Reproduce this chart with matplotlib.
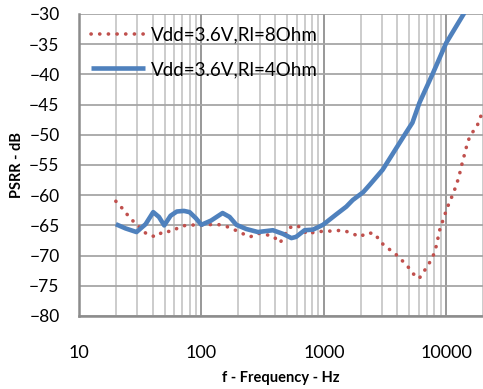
import numpy as np
import matplotlib
matplotlib.use("Agg")
import matplotlib.pyplot as plt
from matplotlib.ticker import LogLocator, FixedLocator, NullFormatter

plt.rcParams['font.family'] = ['Lato', 'DejaVu Sans']

# Vdd=3.6V, Rl=8Ohm (red, dotted)
f_8 = [20, 22.4, 25, 28, 36, 42.5, 48.7, 57.7, 66.7, 79, 97, 112, 133, 157, 181,
       214, 251, 288, 333, 387, 439, 519, 608, 741, 862, 1015, 1208, 1431, 1695,
       1969, 2274, 2630, 2887, 3294, 3800, 4313, 4856, 5373, 6013, 6643, 7259,
       7870, 8277, 8594, 8919, 9440, 9985, 10620, 11380, 12110, 12740, 13240,
       13810, 14430, 15080, 16270, 17960, 18890, 20000]
psrr_8 = [-61.0, -62.1, -63.3, -64.4, -66.5, -66.9, -66.0, -66.0, -65.2, -64.9,
          -65.0, -64.9, -64.8, -65.1, -65.6, -66.3, -66.9, -66.3, -66.5, -66.8,
          -67.9, -65.4, -65.0, -66.5, -66.0, -66.0, -65.9, -65.8, -66.3, -66.9,
          -66.2, -66.4, -67.7, -68.7, -69.6, -70.7, -71.8, -73.0, -73.8, -72.5,
          -71.3, -69.9, -68.5, -67.0, -65.5, -64.1, -62.6, -61.2, -59.8, -58.3,
          -56.9, -55.4, -54.0, -52.5, -51.0, -49.7, -48.5, -47.1, -46.5]

# Vdd=3.6V, Rl=4Ohm (blue, solid)
f_4 = [20, 24, 29.5, 35, 40.4, 45, 49.7, 56, 63, 72, 80, 90, 100, 120, 149, 170,
       193, 233, 290, 384, 464, 544, 594, 697, 816, 986, 1260, 1527, 1725, 2100,
       2370, 3025, 4680, 5300, 6050, 7800, 10000, 13900, 16000]
psrr_4 = [-64.8, -65.5, -66.1, -64.8, -62.8, -63.6, -65.0, -63.4, -62.7, -62.6,
          -62.8, -63.8, -64.9, -64.2, -62.95, -63.6, -64.9, -65.6, -66.1, -65.8,
          -66.4, -67.1, -66.9, -65.8, -65.7, -64.9, -63.2, -61.9, -60.8, -59.5,
          -58.3, -55.8, -49.7, -48.0, -44.7, -39.8, -34.8, -30.0, -27.5]

yticks = [-80, -75, -70, -65, -60, -55, -50, -45, -40, -35, -30]

fig = plt.figure(figsize=(4.83, 3.89), dpi=100)
ax = fig.add_axes([79 / 483, (389 - 316) / 389, (483 - 79) / 483, (316 - 14) / 389])

ax.plot(f_8, psrr_8, color='#c0504d', lw=2.6, linestyle=(0, (0.05, 2.35)),
        dash_capstyle='round', label='Vdd=3.6V,Rl=8Ohm', zorder=3)
ax.plot(f_4, psrr_4, color='#4f81bd', lw=3.3, solid_capstyle='butt',
        label='Vdd=3.6V,Rl=4Ohm', zorder=4)

ax.set_xscale('log')
ax.set_xlim(10, 20000)
ax.set_ylim(-80, -30)
ax.set_yticks(yticks)
ax.xaxis.set_major_locator(FixedLocator([10, 100, 1000, 10000]))
ax.xaxis.set_major_formatter(matplotlib.ticker.FuncFormatter(lambda v, p: '%d' % v))
ax.xaxis.set_minor_locator(LogLocator(base=10, subs=np.arange(2, 10)))
ax.xaxis.set_minor_formatter(NullFormatter())

ax.grid(which='major', axis='x', color='#989898', lw=1.4)
ax.grid(which='minor', axis='x', color='#c8c8c8', lw=1.3)
ax.grid(which='major', axis='y', color='#a6a6a6', lw=1.3)
ax.set_axisbelow(True)

for s in ['top', 'right']:
    ax.spines[s].set_visible(False)
for s in ['left', 'bottom']:
    ax.spines[s].set_color('#8c8c8c')
    ax.spines[s].set_linewidth(1.8)

ax.tick_params(which='both', length=0)
ax.tick_params(axis='y', labelsize=12.5, pad=14)
ax.tick_params(axis='x', labelsize=13, pad=21)

ax.set_xlabel('f - Frequency - Hz', fontsize=10.5, fontweight='bold')
ax.set_ylabel('PSRR - dB', fontsize=10.5, fontweight='bold')
ax.xaxis.set_label_coords(0.5, -0.205)
ax.yaxis.set_label_coords(-0.153, 0.5)
ax.xaxis.label.set_va('center')
ax.yaxis.label.set_va('center')

ax.legend(loc='upper left', bbox_to_anchor=(0.0, 1.0), frameon=False,
          fontsize=13.5, handlelength=2.85, handletextpad=0.35, labelspacing=0.95,
          borderaxespad=0.25)

fig.savefig('out.png', dpi=100)
